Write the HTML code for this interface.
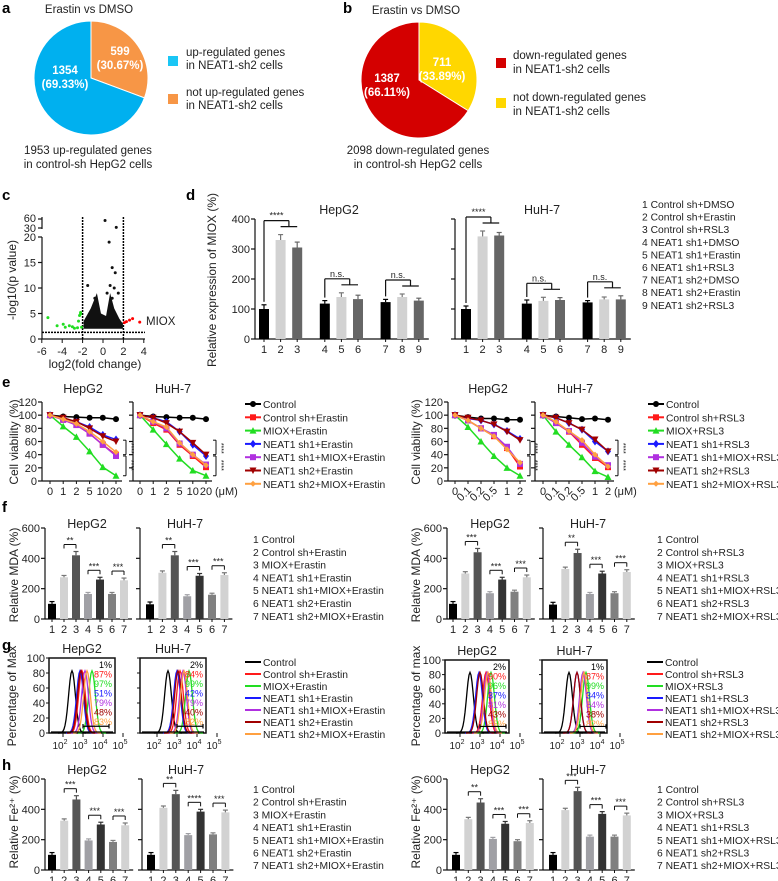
<!DOCTYPE html>
<html><head><meta charset="utf-8"><style>
html,body{margin:0;padding:0;background:#fff;}
svg{display:block;font-family:"Liberation Sans",Arial,sans-serif;}
</style></head><body>
<svg id="fig" width="778" height="881" viewBox="0 0 778 881" xmlns="http://www.w3.org/2000/svg"></svg>
<script>
const pieA = [1354, 599];
const pieAPct = ["(69.33%)", "(30.67%)"];
const pieB = [1387, 711];
const pieBPct = ["(66.11%)", "(33.89%)"];

const volcGreenX = [-5.4,-4.5,-3.9,-3.7,-3.3,-3.0,-2.8,-2.5,-2.3,-2.2,-2.1,-2.4,-2.2];
const volcGreenY = [4.2,2.6,2.9,2.3,2.6,2.4,2.1,2.2,4.6,5.2,2.3,3.5,4.9];
const volcRedX = [2.1,2.3,2.6,2.9,3.6];
const volcRedY = [3.2,3.4,3.7,4.0,3.3];
const volcBlackX = [0.2,1.3,0.6,0.9,1.2,0.7,1.1,0.9,-1.5,1.5,-0.8,0.4];
const volcBlackY = [55,32,19,14,13,10.5,10,8,10.5,9,8,9];

const dCats = ["1","2","3","4","5","6","7","8","9"];
const dHep = [100,330,305,118,140,133,123,140,128];
const dHepErr = [14,18,18,10,14,13,9,10,8];
const dHuh = [100,342,345,118,127,130,122,132,132];
const dHuhErr = [10,18,10,12,12,8,6,8,12];

const doseE = ["0","1","2","5","10","20"];
const doseR = ["0","0.1","0.2","0.5","1","2"];
const eHepCtrl=[100,98,97,96,96,94], eHepSh=[100,93,85,72,55,40], eHepMiox=[100,83,67,45,21,8], eHepSh1=[100,95,90,82,70,63], eHepSh1M=[100,93,85,72,55,38], eHepSh2=[100,96,90,80,68,60], eHepSh2M=[100,94,87,75,60,44];
const eHuhCtrl=[100,98,97,96,96,94], eHuhSh=[100,88,78,55,38,21], eHuhMiox=[100,78,56,34,16,8], eHuhSh1=[100,96,90,75,55,38], eHuhSh1M=[100,90,80,57,40,25], eHuhSh2=[100,96,88,75,58,40], eHuhSh2M=[100,90,82,58,40,24];
const rHepCtrl=[100,97,95,95,93,93], rHepSh=[100,92,80,68,50,22], rHepMiox=[100,82,60,38,20,8], rHepSh1=[100,95,92,86,76,64], rHepSh1M=[100,92,80,70,52,26], rHepSh2=[100,96,92,86,75,62], rHepSh2M=[100,92,80,68,48,28];
const rHuhCtrl=[100,98,96,94,95,93], rHuhSh=[100,88,75,55,35,21], rHuhMiox=[100,75,55,36,15,6], rHuhSh1=[100,96,88,78,60,45], rHuhSh1M=[100,88,76,58,37,24], rHuhSh2=[100,96,88,78,63,45], rHuhSh2M=[100,90,76,62,40,22];

const fCats = ["1","2","3","4","5","6","7"];
const fEHep=[100,275,420,165,260,165,255], fEHuh=[97,305,420,150,285,160,290];
const fRHep=[100,300,440,170,260,180,275], fRHuh=[95,330,435,165,300,170,310];
const hEHep=[100,325,465,195,300,185,295], hEHuh=[100,410,500,230,385,235,380];
const hRHep=[100,335,445,205,305,190,310], hRHuh=[100,395,520,220,370,220,360];
const barErr7=[15,12,25,10,15,10,15];

const gEHepPeaks=[2.45,2.95,3.45,2.85,3.1,2.9,3.2], gEHuhPeaks=[2.55,3.15,3.6,3.0,3.3,3.05,3.35];
const gRHepPeaks=[2.5,3.3,3.55,2.95,3.35,3.0,3.4], gRHuhPeaks=[2.45,3.2,3.3,2.85,3.15,2.85,3.2];
const gEHepPct=["1%","87%","97%","51%","79%","48%","83%"], gEHuhPct=["2%","84%","99%","42%","79%","40%","82%"];
const gRHepPct=["2%","90%","96%","37%","81%","43%","85%"], gRHuhPct=["1%","87%","99%","34%","84%","38%","82%"];

const NS="http://www.w3.org/2000/svg";
const svg=document.getElementById('fig');
const LEGF=10.3;
function el(tag,attrs,parent){const e=document.createElementNS(NS,tag);for(const k in attrs)e.setAttribute(k,attrs[k]);(parent||svg).appendChild(e);return e;}
function txt(x,y,s,size,opts,parent){opts=opts||{};const t=el('text',{x:x,y:y,'font-size':size,'text-anchor':opts.anchor||'start',fill:opts.fill||'#222','font-weight':opts.weight||'normal'},parent);if(opts.rot)t.setAttribute('transform','rotate('+opts.rot+' '+x+' '+y+')');t.textContent=s;return t;}
function line(x1,y1,x2,y2,w,c,parent){return el('line',{x1:x1,y1:y1,x2:x2,y2:y2,stroke:c||'#111','stroke-width':w||1},parent);}
function panelLabel(x,y,s){const t=txt(x,y,s,15,{weight:'bold',fill:'#000'});

}

function pie(cx,cy,r,vals,cols,pcts,lpos,name){
  const g=el('g',{});
  
  
  const tot=vals[0]+vals[1];
  const a1=vals[1]/tot*2*Math.PI;
  const x1=cx+r*Math.sin(a1), y1=cy-r*Math.cos(a1);
  const big=a1>Math.PI?1:0;
  const s2=el('path',{d:`M${cx},${cy} L${cx},${cy-r} A${r},${r} 0 ${big} 1 ${x1},${y1} Z`,fill:cols[1],stroke:'#fff','stroke-width':1},g);
  
  
  const s1=el('path',{d:`M${cx},${cy} L${x1},${y1} A${r},${r} 0 ${1-big} 1 ${cx},${cy-r} Z`,fill:cols[0],stroke:'#fff','stroke-width':1},g);
  
  
  for(let k=0;k<2;k++){
    txt(lpos[k][0],lpos[k][1],String(vals[k]),11.5,{anchor:'middle',fill:'#fff',weight:'bold'},g);
    txt(lpos[k][0],lpos[k][1]+14,pcts[k],11.5,{anchor:'middle',fill:'#fff',weight:'bold'},g);
  }
}

function bars(o){
  const g=el('g',{});
  
  
  const y=v=>o.y0-v*o.ppu;
  line(o.ax,o.y0,o.ax,y(o.ymax),1.2,'#111',g);
  o.ticks.forEach(t=>{line(o.ax-4,y(t),o.ax,y(t),1.2,'#111',g);if(o.tickLabels)txt(o.ax-5,y(t)+4,String(t),11,{anchor:'end'},g);});
  line(o.ax,o.y0,o.xs[o.xs.length-1]+o.w,o.y0,1.2,'#111',g);
  o.vals.forEach((v,i)=>{
    const x=o.xs[i];
    const b=el('rect',{x:x-o.w/2,y:y(v),width:o.w,height:v*o.ppu,fill:o.cols[i]},g);
    
    
    const e=o.errs[i];
    const ec=o.cols[i]==='#d2d2d2'?'#777':o.cols[i];
    line(x,y(v),x,y(v+e),1.2,ec,g);
    line(x-2.5,y(v+e),x+2.5,y(v+e),1.2,ec,g);
    line(x,o.y0,x,o.y0+3,1,'#111',g);
    txt(x,o.y0+14,o.cats[i],11,{anchor:'middle'},g);
  });
  (o.sig||[]).forEach(s=>{
    const i=s[0],j=s[1];
    const top=Math.max(o.vals[i]+o.errs[i],o.vals[j]+o.errs[j]);
    const yy=y(top)-7;
    line(o.xs[i],yy,o.xs[j],yy,1,'#111',g);line(o.xs[i],yy,o.xs[i],yy+4,1,'#111',g);line(o.xs[j],yy,o.xs[j],yy+4,1,'#111',g);
    txt((o.xs[i]+o.xs[j])/2,yy-1,s[2],9,{anchor:'middle'},g);
  });
  (o.sig3||[]).forEach(s=>{
    const i=s[0],j=s[1],k=s[2];
    const top=Math.max(o.vals[i]+o.errs[i],o.vals[j]+o.errs[j],o.vals[k]+o.errs[k]);
    const yy=y(top)-14, xm=(o.xs[j]+o.xs[k])/2;
    line(o.xs[i],yy,xm,yy,1.2,'#111',g);line(o.xs[i],yy,o.xs[i],y(o.vals[i]+o.errs[i])-3,1.2,'#111',g);
    line(xm,yy,xm,yy+6,1.2,'#111',g);line(o.xs[j],yy+6,o.xs[k],yy+6,1.2,'#111',g);
    txt((o.xs[i]+xm)/2,yy-2,s[3],9,{anchor:'middle'},g);
  });
  if(o.title)txt(o.title[0],o.title[1],o.title[2],12.5,{anchor:'middle'},g);
}

const serCols=['#000','#ff1a1a','#22dd22','#1a1aff','#b030e0','#a00000','#ffa040'];
const serMarks=['circle','square','tri','diamond','square','trid','star'];
function marker(type,x,y,c,parent){
  const s=3;
  if(type==='circle')return el('circle',{cx:x,cy:y,r:3,fill:c},parent);
  if(type==='square')return el('rect',{x:x-s,y:y-s,width:2*s,height:2*s,fill:c},parent);
  if(type==='tri')return el('path',{d:`M${x},${y-s-0.5}L${x+s+0.5},${y+s}L${x-s-0.5},${y+s}Z`,fill:c},parent);
  if(type==='trid')return el('path',{d:`M${x},${y+s+0.5}L${x+s+0.5},${y-s}L${x-s-0.5},${y-s}Z`,fill:c},parent);
  if(type==='diamond')return el('path',{d:`M${x},${y-s-1}L${x+s},${y}L${x},${y+s+1}L${x-s},${y}Z`,fill:c},parent);
  return el('path',{d:`M${x-s},${y}L${x},${y-s}L${x+s},${y}L${x},${y+s}Z`,fill:c},parent);
}
function lineChart(o){
  const g=el('g',{});
  
  
  const y=v=>o.y0-v*o.ppu;
  const x=i=>o.x0+i*o.step;
  line(o.ax,o.y0,o.ax,y(120),1.2,'#111',g);
  [0,20,40,60,80,100,120].forEach(t=>{line(o.ax-4,y(t),o.ax,y(t),1.2,'#111',g);if(o.tickLabels)txt(o.ax-5,y(t)+4,String(t),11,{anchor:'end'},g);});
  line(o.ax,o.y0,x(o.cats.length-1)+6,o.y0,1.2,'#111',g);
  o.cats.forEach((c,i)=>{line(x(i),o.y0,x(i),o.y0+3,1,'#111',g);
    if(o.rot&&i>0&&i<4)txt(x(i)+4,o.y0+10,c,11,{anchor:'end',rot:-45},g);
    else txt(x(i),o.y0+14,c,11,{anchor:'middle'},g);});
  o.series.forEach((s,k)=>{
    const sg=el('g',{},g);
    
    
    el('polyline',{points:s.map((v,i)=>x(i)+','+y(v)).join(' '),fill:'none',stroke:serCols[k],'stroke-width':1.5},sg);
    s.forEach((v,i)=>{if(i>0){line(x(i),y(v-4),x(i),y(v+4),1,serCols[k],sg);}marker(serMarks[k],x(i),y(v),serCols[k],sg);});
  });
  txt(o.tx,o.y0-88,o.title,12.5,{anchor:'middle'},g);
  const xr=x(o.cats.length-1)+7;
  line(xr,y(62),xr+3,y(62),1,'#111',g);line(xr+3,y(62),xr+3,y(40),1,'#111',g);line(xr,y(40),xr+3,y(40),1,'#111',g);
  line(xr,y(38),xr+3,y(38),1,'#111',g);line(xr+3,y(38),xr+3,y(8),1,'#111',g);line(xr,y(8),xr+3,y(8),1,'#111',g);
  txt(xr+6,y(58),'****',7,{rot:90},g);txt(xr+6,y(32),'****',7,{rot:90},g);
}
function legendLines(x,y0,dy,labels,name,withMarkers){
  const g=el('g',{});
  
  
  labels.forEach((l,i)=>{const y=y0+i*dy;
    const it=el('g',{},g);
    
    
    line(x,y-4,x+16,y-4,2,serCols[i],it);
    if(withMarkers)marker(serMarks[i],x+8,y-4,serCols[i],it);
    txt(x+18,y,l,LEGF,{},it);});
}
function legendText(x,y0,dy,labels,name){
  const g=el('g',{});
  
  
  labels.forEach((l,i)=>{const t=txt(x,y0+i*dy,l,LEGF,{},g);
    
    });
}
function flow(o){
  const g=el('g',{});
  
  
  const X=lg=>o.x2+(lg-2)*20;
  const y=v=>o.bot-v*(o.bot-o.top)/100;
  el('rect',{x:o.left,y:o.top,width:o.w,height:o.bot-o.top,fill:'none',stroke:'#111','stroke-width':1.5},g);
  [0,20,40,60,80,100].forEach(t=>{line(o.left-3,y(t),o.left,y(t),1,'#111',g);if(o.tickLabels)txt(o.left-4,y(t)+4,String(t),11,{anchor:'end'},g);});
  [2,3,4,5].forEach(d=>{const tx=X(d);line(tx,o.bot,tx,o.bot+4,1,'#111',g);
    const t=txt(tx-3,o.bot+16,'10',10,{anchor:'middle'},g);const sup=el('tspan',{dy:-5,'font-size':7},t);sup.textContent=String(d);});
  o.peaks.forEach((p,k)=>{
    const pts=[];for(let lg=p-0.7;lg<=p+0.7;lg+=0.05){const v=83*Math.exp(-Math.pow((lg-p)/0.17,2)/2);pts.push(X(lg).toFixed(1)+','+y(v).toFixed(1));}
    const pl=el('polyline',{points:pts.join(' '),fill:'none',stroke:serCols[k],'stroke-width':1.3},g);
    
    
  });
  o.peaks.forEach((p,k)=>{txt(o.left+o.w-3,o.top+10+k*9.5,o.pct[k],9,{anchor:'end',fill:serCols[k]},g);});
  line(o.left+2,o.bot-1,o.left+o.w-2,o.bot-1,1.3,'#000',g);
  line(X(3.0),y(9),X(4.3),y(9),1.2,'#000',g);line(X(3.0),y(6),X(3.0),y(12),1.2,'#000',g);line(X(4.3),y(6),X(4.3),y(12),1.2,'#000',g);
  txt(o.left+o.w/2,o.top-5,o.title,12.5,{anchor:'middle'},g);
}

// a, b
panelLabel(2,13,'a');
txt(89,13,'Erastin vs DMSO',11.5,{anchor:'middle'});
pie(91,78,57,pieA,['#00b0ef','#f79646'],pieAPct,[[65,74],[120,55]],'pie-a');
el('rect',{x:168,y:56,width:10,height:10,fill:'#1ac6f5'});
txt(186,56,'up-regulated genes',11.5,{});txt(186,69,'in NEAT1-sh2 cells',11.5,{});
el('rect',{x:168,y:94,width:10,height:10,fill:'#f79646'});
txt(186,96,'not up-regulated genes',11.5,{});txt(186,109,'in NEAT1-sh2 cells',11.5,{});
txt(88,154,'1953 up-regulated genes',11.5,{anchor:'middle'});txt(88,168,'in control-sh HepG2 cells',11.5,{anchor:'middle'});

panelLabel(343,13,'b');
txt(416,14,'Erastin vs DMSO',11.5,{anchor:'middle'});
pie(419,80,58,pieB,['#d40000','#ffd700'],pieBPct,[[387,82],[442,66]],'pie-b');
el('rect',{x:496,y:58,width:10,height:10,fill:'#d40000'});
txt(513,59,'down-regulated genes',11.5,{});txt(513,73,'in NEAT1-sh2 cells',11.5,{});
el('rect',{x:496,y:98,width:10,height:10,fill:'#ffd700'});
txt(513,101,'not down-regulated genes',11.5,{});txt(513,115,'in NEAT1-sh2 cells',11.5,{});
txt(418,154,'2098 down-regulated genes',11.5,{anchor:'middle'});txt(418,168,'in control-sh HepG2 cells',11.5,{anchor:'middle'});

// c
panelLabel(2,200,'c');
(function(){
  const g=el('g',{});
  
  
  const X=v=>103+v*10.2;
  const Y=v=>v<=20?339-v*5.1:(v<=30?228-(v-30)*0.1:219-(v-60)*0.3);
  line(42,339,145,339,1.2,'#111',g);line(42,339,42,237,1.2,'#111',g);line(42,229,42,217,1.2,'#111',g);
  [0,5,10,15,20].forEach(t=>{line(38,Y(t),42,Y(t),1.2,'#111',g);txt(36,Y(t)+4,String(t),11,{anchor:'end'},g);});
  line(38,228,42,228,1.2,'#111',g);line(38,219,42,219,1.2,'#111',g);
  txt(36,232,'30',11,{anchor:'end'},g);txt(36,222,'60',11,{anchor:'end'},g);
  [-6,-4,-2,0,2,4].forEach(t=>{line(X(t),339,X(t),343,1,'#111',g);txt(X(t),355,String(t),11,{anchor:'middle'},g);});
  txt(95,368,'log2(fold change)',12,{anchor:'middle'},g);
  txt(16,280,'-log10(p value)',12,{anchor:'middle',rot:-90},g);
  line(X(-2),217,X(-2),339,1.5,'#000',g).setAttribute('stroke-dasharray','2,1');
  line(X(2),217,X(2),339,1.5,'#000',g).setAttribute('stroke-dasharray','2,1');
  line(42,Y(1.3),145,Y(1.3),1.5,'#000',g).setAttribute('stroke-dasharray','2,1');
  el('path',{d:`M${X(-1.9)},${Y(2)} L${X(-1.9)},${Y(3.5)} L${X(-1.2)},${Y(6)} L${X(-0.6)},${Y(9)} L${X(-0.2)},${Y(5)} L${X(0.3)},${Y(4.5)} L${X(0.7)},${Y(9)} L${X(1.1)},${Y(6)} L${X(1.6)},${Y(4)} L${X(1.95)},${Y(3)} L${X(1.95)},${Y(2)} Z`,fill:'#111'},g);
  volcBlackX.forEach((v,i)=>el('circle',{cx:X(v),cy:Y(volcBlackY[i]),r:1.5,fill:'#111'},g));
  volcGreenX.forEach((v,i)=>el('circle',{cx:X(v),cy:Y(volcGreenY[i]),r:1.5,fill:'#22dd22'},g));
  volcRedX.forEach((v,i)=>el('circle',{cx:X(v),cy:Y(volcRedY[i]),r:1.5,fill:'#ff0000'},g));
  txt(146,325,'MIOX',11.5,{},g);
})();

// d
panelLabel(186,200,'d');
const dCols=['#000','#d2d2d2','#666','#000','#d2d2d2','#666','#000','#d2d2d2','#666'];
const dXs=base=>dCats.map((c,i)=>base+i*16.6+Math.floor(i/3)*11);
txt(216,280,'Relative expression of MIOX (%)',12,{anchor:'middle',rot:-90});
bars({name:'bar-chart-d-hepg2',ax:255,y0:339,ppu:120/400,ymax:400,ticks:[0,100,200,300,400],tickLabels:true,xs:dXs(264),w:10,vals:dHep,errs:dHepErr,cols:dCols,cats:dCats,sig3:[[0,1,2,'****'],[3,4,5,'n.s.'],[6,7,8,'n.s.']],title:[339,214,'HepG2']});
bars({name:'bar-chart-d-huh7',ax:455,y0:339,ppu:120/400,ymax:400,ticks:[0,100,200,300,400],tickLabels:false,xs:dXs(466),w:10,vals:dHuh,errs:dHuhErr,cols:dCols,cats:dCats,sig3:[[0,1,2,'****'],[3,4,5,'n.s.'],[6,7,8,'n.s.']],title:[542,214,'HuH-7']});
legendText(642,208,12.6,['1 Control sh+DMSO','2 Control sh+Erastin','3 Control sh+RSL3','4 NEAT1 sh1+DMSO','5 NEAT1 sh1+Erastin','6 NEAT1 sh1+RSL3','7 NEAT1 sh2+DMSO','8 NEAT1 sh2+Erastin','9 NEAT1 sh2+RSL3'],'legend-d');

// e
panelLabel(2,387,'e');
const ePpu=79/120;
txt(18,442,'Cell viability (%)',12,{anchor:'middle',rot:-90});
lineChart({name:'line-chart-e-erastin-hepg2',ax:42,y0:481,ppu:ePpu,x0:50,step:13.2,cats:doseE,tickLabels:true,tx:83,title:'HepG2',series:[eHepCtrl,eHepSh,eHepMiox,eHepSh1,eHepSh1M,eHepSh2,eHepSh2M]});
lineChart({name:'line-chart-e-erastin-huh7',ax:133,y0:481,ppu:ePpu,x0:140,step:13.2,cats:doseE,tickLabels:false,tx:173,title:'HuH-7',series:[eHuhCtrl,eHuhSh,eHuhMiox,eHuhSh1,eHuhSh1M,eHuhSh2,eHuhSh2M]});
txt(215,495,'(μM)',11,{});
legendLines(245,408,13.3,['Control','Control sh+Erastin','MIOX+Erastin','NEAT1 sh1+Erastin','NEAT1 sh1+MIOX+Erastin','NEAT1 sh2+Erastin','NEAT1 sh2+MIOX+Erastin'],'legend-e-erastin',true);
txt(420,442,'Cell viability (%)',12,{anchor:'middle',rot:-90});
lineChart({name:'line-chart-e-rsl3-hepg2',ax:448,y0:481,ppu:ePpu,x0:455,step:13,cats:doseR,tickLabels:true,rot:true,tx:488,title:'HepG2',series:[rHepCtrl,rHepSh,rHepMiox,rHepSh1,rHepSh1M,rHepSh2,rHepSh2M]});
lineChart({name:'line-chart-e-rsl3-huh7',ax:535,y0:481,ppu:ePpu,x0:543,step:13,cats:doseR,tickLabels:false,rot:true,tx:575,title:'HuH-7',series:[rHuhCtrl,rHuhSh,rHuhMiox,rHuhSh1,rHuhSh1M,rHuhSh2,rHuhSh2M]});
txt(614,495,'(μM)',11,{});
legendLines(648,408,13.3,['Control','Control sh+RSL3','MIOX+RSL3','NEAT1 sh1+RSL3','NEAT1 sh1+MIOX+RSL3','NEAT1 sh2+RSL3','NEAT1 sh2+MIOX+RSL3'],'legend-e-rsl3',true);

// f & h
const c7=['#000','#d2d2d2','#555','#a0a0a5','#333','#808080','#d2d2d2'];
const xs7=(b,s)=>fCats.map((c,i)=>b+i*s);
const sigE=[[1,2,'**'],[3,4,'***'],[5,6,'***']];
const sigR=[[1,2,'***'],[3,4,'***'],[5,6,'***']];
const ticks6=[0,200,400,600];
const legE=['1 Control','2 Control sh+Erastin','3 MIOX+Erastin','4 NEAT1 sh1+Erastin','5 NEAT1 sh1+MIOX+Erastin','6 NEAT1 sh2+Erastin','7 NEAT1 sh2+MIOX+Erastin'];
const legR=['1 Control','2 Control sh+RSL3','3 MIOX+RSL3','4 NEAT1 sh1+RSL3','5 NEAT1 sh1+MIOX+RSL3','6 NEAT1 sh2+RSL3','7 NEAT1 sh2+MIOX+RSL3'];
panelLabel(2,512,'f');
txt(18,575,'Relative MDA (%)',12,{anchor:'middle',rot:-90});
bars({name:'bar-chart-f-erastin-hepg2',ax:45,y0:619,ppu:91/600,ymax:600,ticks:ticks6,tickLabels:true,xs:xs7(52,12),w:8,vals:fEHep,errs:barErr7,cols:c7,cats:fCats,sig:sigE,title:[87,528,'HepG2']});
bars({name:'bar-chart-f-erastin-huh7',ax:140,y0:619,ppu:91/600,ymax:600,ticks:ticks6,tickLabels:false,xs:xs7(150,12.4),w:8,vals:fEHuh,errs:barErr7,cols:c7,cats:fCats,sig:sigE,title:[185,528,'HuH-7']});
legendText(253,543,12.8,legE,'legend-f-erastin');
txt(420,575,'Relative MDA (%)',12,{anchor:'middle',rot:-90});
bars({name:'bar-chart-f-rsl3-hepg2',ax:447,y0:619,ppu:91/600,ymax:600,ticks:ticks6,tickLabels:true,xs:xs7(453,12.3),w:8,vals:fRHep,errs:barErr7,cols:c7,cats:fCats,sig:sigR,title:[490,528,'HepG2']});
bars({name:'bar-chart-f-rsl3-huh7',ax:543,y0:619,ppu:91/600,ymax:600,ticks:ticks6,tickLabels:false,xs:xs7(553,12.3),w:8,vals:fRHuh,errs:barErr7,cols:c7,cats:fCats,sig:[[1,2,'**'],[3,4,'***'],[5,6,'***']],title:[588,528,'HuH-7']});
legendText(657,543,12.8,legR,'legend-f-rsl3');

panelLabel(2,770,'h');
txt(18,822,'Relative Fe²⁺ (%)',12,{anchor:'middle',rot:-90});
bars({name:'bar-chart-h-erastin-hepg2',ax:45,y0:870,ppu:91/600,ymax:600,ticks:ticks6,tickLabels:true,xs:xs7(52,12.2),w:8,vals:hEHep,errs:barErr7,cols:c7,cats:fCats,sig:[[1,2,'***'],[3,4,'***'],[5,6,'***']],title:[87,774,'HepG2']});
bars({name:'bar-chart-h-erastin-huh7',ax:142,y0:870,ppu:91/600,ymax:600,ticks:ticks6,tickLabels:false,xs:xs7(151,12.4),w:8,vals:hEHuh,errs:barErr7,cols:c7,cats:fCats,sig:[[1,2,'**'],[3,4,'****'],[5,6,'***']],title:[186,774,'HuH-7']});
legendText(253,793,12.7,legE,'legend-h-erastin');
txt(420,822,'Relative Fe²⁺ (%)',12,{anchor:'middle',rot:-90});
bars({name:'bar-chart-h-rsl3-hepg2',ax:447,y0:870,ppu:91/600,ymax:600,ticks:ticks6,tickLabels:true,xs:xs7(456,12.3),w:8,vals:hRHep,errs:barErr7,cols:c7,cats:fCats,sig:[[1,2,'**'],[3,4,'***'],[5,6,'***']],title:[490,774,'HepG2']});
bars({name:'bar-chart-h-rsl3-huh7',ax:543,y0:870,ppu:91/600,ymax:600,ticks:ticks6,tickLabels:false,xs:xs7(553,12.3),w:8,vals:hRHuh,errs:barErr7,cols:c7,cats:fCats,sig:sigR,title:[588,774,'HuH-7']});
legendText(657,793,12.7,legR,'legend-h-rsl3');

// g
panelLabel(2,650,'g');
txt(16,696,'Percentage of Max',12,{anchor:'middle',rot:-90});
flow({name:'flow-g-erastin-hepg2',left:49,w:66,top:658,bot:733,x2:63,peaks:gEHepPeaks,pct:gEHepPct,tickLabels:true,title:'HepG2'});
flow({name:'flow-g-erastin-huh7',left:140,w:66,top:658,bot:733,x2:157,peaks:gEHuhPeaks,pct:gEHuhPct,tickLabels:false,title:'HuH-7'});
legendLines(245,666,12,['Control','Control sh+Erastin','MIOX+Erastin','NEAT1 sh1+Erastin','NEAT1 sh1+MIOX+Erastin','NEAT1 sh2+Erastin','NEAT1 sh2+MIOX+Erastin'],'legend-g-erastin',false);
txt(420,696,'Percentage of max',12,{anchor:'middle',rot:-90});
flow({name:'flow-g-rsl3-hepg2',left:445,w:64,top:660,bot:733,x2:460,peaks:gRHepPeaks,pct:gRHepPct,tickLabels:true,title:'HepG2'});
flow({name:'flow-g-rsl3-huh7',left:542,w:65,top:660,bot:733,x2:560,peaks:gRHuhPeaks,pct:gRHuhPct,tickLabels:false,title:'HuH-7'});
legendLines(647,666,12,['Control','Control sh+RSL3','MIOX+RSL3','NEAT1 sh1+RSL3','NEAT1 sh1+MIOX+RSL3','NEAT1 sh2+RSL3','NEAT1 sh2+MIOX+RSL3'],'legend-g-rsl3',false);
</script>
</body></html>
